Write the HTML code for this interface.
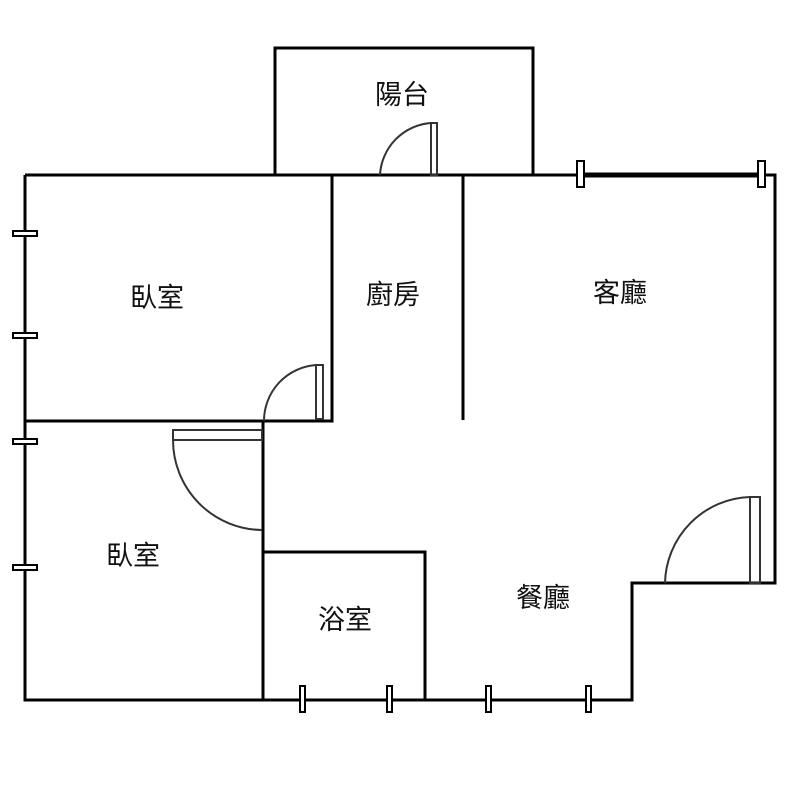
<!DOCTYPE html>
<html><head><meta charset="utf-8"><style>body{margin:0;background:#fff}svg{display:block}text{font-family:"Liberation Sans","Noto Sans CJK TC",sans-serif;font-size:27px;fill:#111;text-anchor:middle;dominant-baseline:central}</style></head><body>
<svg width="800" height="800" viewBox="0 0 800 800">
<g stroke="#000" stroke-width="3" fill="none">
<path d="M25 175V700H632V583H775V175H25"/>
<path d="M580 175H762" stroke-width="5"/>
<path d="M275 175V48H533V175"/>
<path d="M25 421H332V175"/>
<path d="M463 175V420"/>
<path d="M263 421V700"/>
<path d="M263 552H425V700"/>
</g>
<g stroke="#000" stroke-width="2" fill="#fff">
<rect x="13" y="231" width="24" height="5"/><rect x="13" y="333" width="24" height="5"/>
<rect x="13" y="439" width="24" height="5"/><rect x="13" y="565" width="24" height="5"/>
<rect x="300" y="686" width="5" height="26"/><rect x="387" y="686" width="5" height="26"/>
<rect x="486" y="686" width="5" height="26"/><rect x="586" y="686" width="5" height="26"/>
<rect x="577" y="161" width="7" height="26"/><rect x="758" y="161" width="7" height="26"/>
</g>
<g stroke="#333" stroke-width="2" fill="none">
<rect x="431" y="123" width="6" height="52"/><path d="M380 175A55 55 0 0 1 431 123"/>
<rect x="316" y="365" width="7" height="54"/><path d="M264 421A56 56 0 0 1 316 365"/>
<rect x="173" y="430" width="89" height="10"/><path d="M173 440A90 90 0 0 0 262 530"/>
<rect x="750" y="497" width="10" height="86"/><path d="M665 583A88 88 0 0 1 750 497"/>
</g>
<text x="402" y="95">陽台</text>
<text x="157" y="298">臥室</text>
<text x="393" y="295">廚房</text>
<text x="620" y="293">客廳</text>
<text x="133" y="556">臥室</text>
<text x="345" y="620">浴室</text>
<text x="543" y="598">餐廳</text>
</svg>
</body></html>
